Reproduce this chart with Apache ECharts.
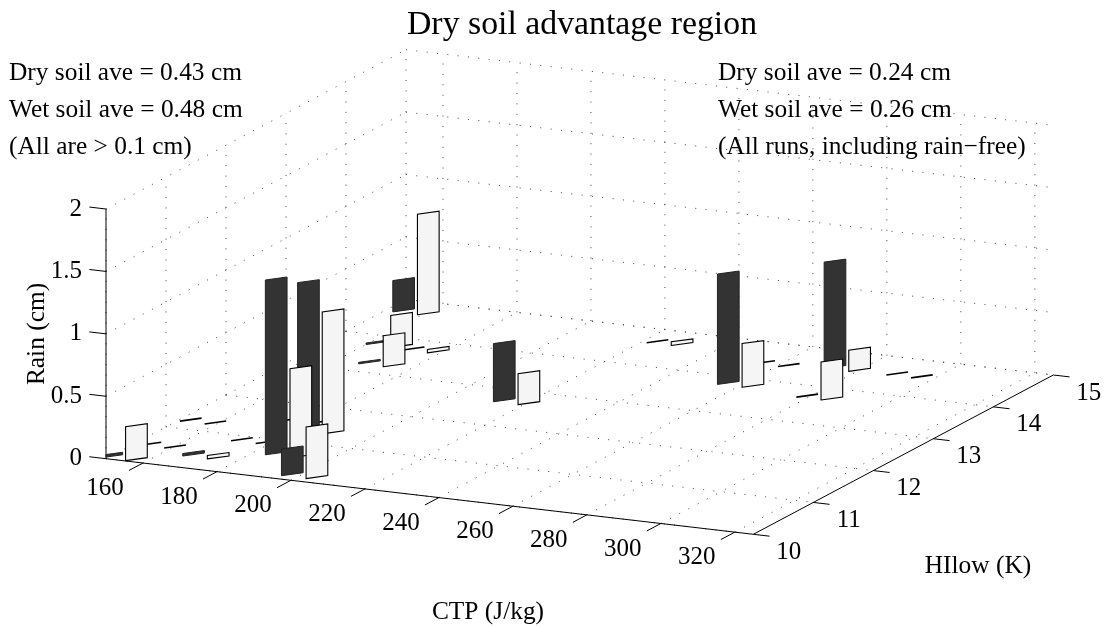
<!DOCTYPE html>
<html>
<head>
<meta charset="utf-8">
<style>html,body{margin:0;padding:0;background:#fff}#c{width:1107px;height:627px}</style>
<script src="https://cdn.jsdelivr.net/npm/echarts@6/dist/echarts.min.js"></script>
</head>
<body>
<div id="c"></div>
<script>
// Runs
const ctp     = [153.6,156.9,171.0,155.8,175.3,188.8,186.0,201.1,177.4,171.5,165.1,157.4,175.5,217.2,226.5,259.6,258.9,282.4,276.6,293.1];
const hilow   = [10.08,10.52,10.37,11.26,10.91,10.65,11.36,10.16,11.54,13.27,13.79,14.71,13.76,12.70,14.68,13.82,14.46,13.73,14.55,14.57];
const dryRain = [0.02,0,0.02,0,0,1.40,1.188,0.214,0,0.012,0.012,0.251,0,0.466,0,0.884,0,0,0.852,0];
const wetRain = [0.272,0,0.027,0,0,0.713,0.977,0.414,0,0.248,0.256,0.806,0.027,0.248,0.03,0.35,0,0.304,0.17,0];

const ctpTicks = [160,180,200,220,240,260,280,300,320];
const hilowTicks = [10,11,12,13,14,15];
const rainTicks = [0,0.5,1,1.5,2];
const ctpRange = [150,325], hilowRange = [10,15], rainRange = [0,2];

const notesLeft = ['Dry soil ave = 0.43 cm','Wet soil ave = 0.48 cm','(All are > 0.1 cm)'];
const notesRight = ['Dry soil ave = 0.24 cm','Wet soil ave = 0.26 cm','(All runs, including rain\u2212free)'];

const FONT = '"Liberation Serif","Times New Roman",serif';
const pairOffset = 3.33, barHalfX = 1.78, barHalfY = 0.071;

// Orthographic projection of (CTP, HIlow, Rain) on a plane
function project(x, y, z) {
  const u = x - ctpRange[0], v = y - hilowRange[0];
  return [106 + u * 3.699 + v * 60, 458.7 + u * 0.432 - v * 31.86 - z * 124.85];
}

// bars, painted back to front
const bars = [];
ctp.forEach((c, i) => {
  bars.push([c - pairOffset, hilow[i], dryRain[i], 0]);
  bars.push([c + pairOffset, hilow[i], wetRain[i], 1]);
});
bars.sort((a, b) => project(a[0], a[1], 0)[1] - project(b[0], b[1], 0)[1]);

// dotted grid
const gridLines = [];
const [x0, x1] = ctpRange, [y0, y1] = hilowRange, [z0, z1] = rainRange;
ctpTicks.forEach(t => {
  gridLines.push([t, y0, z0, t, y1, z0]);
  gridLines.push([t, y1, z0, t, y1, z1]);
});
hilowTicks.forEach(t => {
  gridLines.push([x0, t, z0, x1, t, z0]);
  gridLines.push([x0, t, z0, x0, t, z1]);
});
rainTicks.forEach(t => {
  gridLines.push([x0, y1, t, x1, y1, t]);
  gridLines.push([x0, y0, t, x0, y1, t]);
});

// solid axes and ticks
const axisLines = [
  [x0, y0, z0, x1, y0, z0],
  [x1, y0, z0, x1, y1, z0],
  [x0, y0, z0, x0, y0, z1]
];
ctpTicks.forEach(t => axisLines.push([t, y0, z0, t, y0 - 0.233, z0]));
hilowTicks.forEach(t => axisLines.push([x1, t, z0, x1 + 4.4, t, z0]));
rainTicks.forEach(t => axisLines.push([x0, y0, t, x0 - 4.5, y0, t]));

// tick labels: value triple, text, and label shift
const tickLabels = [];
ctpTicks.forEach(t => tickLabels.push({ value: [t, y0, z0, -38, 25.5, 0], name: String(t) }));
hilowTicks.forEach(t => tickLabels.push({ value: [x1, t, z0, 35.5, 18, 0], name: String(t) }));
rainTicks.forEach(t => tickLabels.push({ value: [x0, y0, t, -24, 0, 1], name: String(t) }));

function lineItem(params, api, style) {
  const a = api.coord(project(api.value(0), api.value(1), api.value(2)));
  const b = api.coord(project(api.value(3), api.value(4), api.value(5)));
  return { type: 'line', shape: { x1: a[0], y1: a[1], x2: b[0], y2: b[1] }, style: style, silent: true };
}

function barItem(params, api) {
  const x = api.value(0), y = api.value(1), z = api.value(2), kind = api.value(3);
  const xs = x - barHalfX, ys = y - barHalfY, xb = x + barHalfX, yb = y + barHalfY;
  // clip the part that would fall left of the rain axis
  const limit = project(x0, y0, 0)[0], ps = project(xs, ys, 0)[0], pe = project(xb, yb, 0)[0];
  const f0 = ps < limit ? (limit - ps) / (pe - ps) : 0;
  const xa = xs + f0 * (xb - xs), ya = ys + f0 * (yb - ys);
  const pts = [[xa, ya, 0], [xb, yb, 0], [xb, yb, z], [xa, ya, z]]
    .map(p => api.coord(project(p[0], p[1], p[2])));
  return {
    type: 'polygon', shape: { points: pts },
    style: kind === 0
      ? { fill: '#333333', stroke: z === 0 ? '#000' : '#222222', lineWidth: z === 0 ? 1.6 : 1 }
      : { fill: '#f5f5f5', stroke: '#000', lineWidth: z === 0 ? 1.6 : 1.1 },
    silent: true
  };
}

function labelItem(params, api) {
  const p = api.coord(project(api.value(0), api.value(1), api.value(2)));
  const right = api.value(5) === 1;
  return {
    type: 'text', silent: true,
    x: p[0] + api.value(3), y: p[1] + api.value(4),
    style: {
      text: tickLabels[params.dataIndex].name, fill: '#000',
      font: '25px ' + FONT, align: right ? 'right' : 'center', verticalAlign: 'middle'
    }
  };
}

function textEl(text, x, y, size, align, rot) {
  return {
    type: 'text', x: x, y: y, rotation: rot || 0, silent: true,
    style: { text: text, fill: '#000', font: size + 'px ' + FONT, align: align, verticalAlign: 'middle' }
  };
}

const noteY = [73, 110, 147];
const graphics = [];
notesLeft.forEach((t, i) => graphics.push(textEl(t, 9, noteY[i], 25.4, 'left')));
notesRight.forEach((t, i) => graphics.push(textEl(t, 718, noteY[i], 25.4, 'left')));
graphics.push(textEl('Rain (cm)', 37, 334, 25.4, 'center', Math.PI / 2));
graphics.push(textEl('CTP (J/kg)', 488, 612, 25.4, 'center'));
graphics.push(textEl('HIlow (K)', 978, 566, 25.4, 'center'));

const chart = echarts.init(document.getElementById('c'), null, { renderer: 'canvas' });
chart.setOption({
  animation: false,
  backgroundColor: '#fff',
  title: {
    text: 'Dry soil advantage region', left: 577, top: 3, textAlign: 'center',
    textStyle: { fontFamily: FONT, fontWeight: 'normal', fontSize: 33.8, color: '#000' }
  },
  grid: { left: 0, right: 0, top: 0, bottom: 0 },
  xAxis: { type: 'value', min: 0, max: 1107, show: false },
  yAxis: { type: 'value', min: 0, max: 627, inverse: true, show: false },
  graphic: graphics,
  series: [
    { type: 'custom', clip: false, z: 1, data: gridLines,
      renderItem: (p, a) => lineItem(p, a, { stroke: '#444', lineWidth: 1, lineDash: [1, 9.4] }) },
    { type: 'custom', clip: false, z: 2, data: axisLines,
      renderItem: (p, a) => lineItem(p, a, { stroke: '#000', lineWidth: 1 }) },
    { type: 'custom', clip: false, z: 3, data: bars, renderItem: barItem },
    { type: 'custom', clip: false, z: 4, data: tickLabels, renderItem: labelItem }
  ]
});
</script>
</body>
</html>
